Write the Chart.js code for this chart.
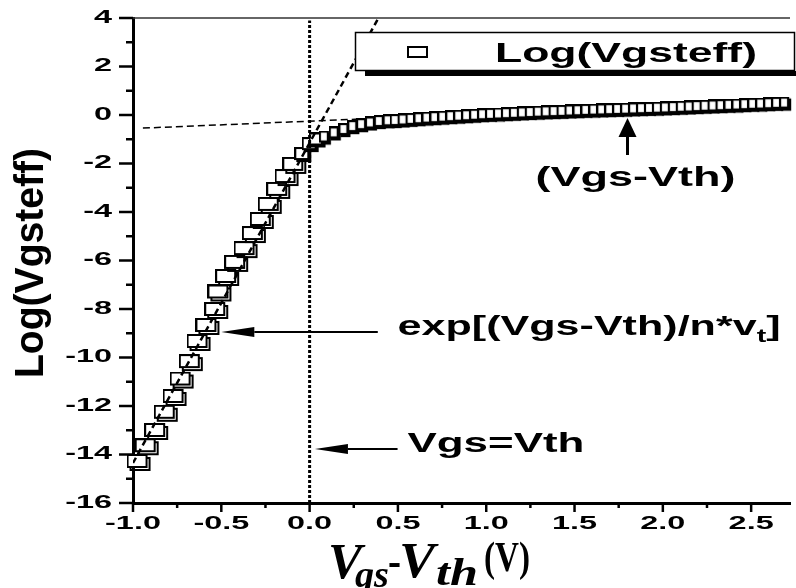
<!DOCTYPE html>
<html>
<head>
<meta charset="utf-8">
<script src="https://cdn.jsdelivr.net/npm/chart.js@4.4.0/dist/chart.umd.min.js"></script>
<style>
  html, body { margin: 0; padding: 0; background: #fff; }
  #wrap { width: 796px; height: 588px; position: relative; }
</style>
</head>
<body>
<div id="wrap"><canvas id="chart"></canvas></div>
<script>
// data
const vgsVth = [
  -0.966, -0.92, -0.866, -0.812, -0.762, -0.722, -0.67, -0.626, -0.576, -0.526,
  -0.508, -0.464, -0.413, -0.36, -0.313, -0.268, -0.223, -0.175, -0.128, -0.084,
  -0.036, 0.006, 0.045, 0.089, 0.145, 0.2, 0.25, 0.3, 0.35, 0.4, 0.45,
  0.49, 0.535, 0.58, 0.625, 0.67, 0.715, 0.76, 0.805, 0.85, 0.895,
  0.94, 0.985, 1.03, 1.075, 1.12, 1.165, 1.21, 1.255, 1.3, 1.345,
  1.39, 1.435, 1.48, 1.525, 1.57, 1.615, 1.66, 1.705, 1.75, 1.795,
  1.84, 1.885, 1.93, 1.975, 2.02, 2.065, 2.11, 2.155, 2.2, 2.245,
  2.29, 2.335, 2.38, 2.425, 2.47, 2.515, 2.56, 2.605, 2.65, 2.695
];
const logVgsteff = [
  -14.35, -13.7, -13.07, -12.32, -11.67, -10.95, -10.23, -9.4, -8.74, -8.08,
  -7.36, -6.72, -6.14, -5.57, -4.95, -4.37, -3.75, -3.13, -2.6, -2.1,
  -1.65, -1.24, -1.05, -0.95, -0.78, -0.64, -0.52, -0.44, -0.37, -0.31, -0.28,
  -0.27, -0.245, -0.22, -0.195, -0.17, -0.15, -0.13, -0.11, -0.09, -0.07,
  -0.05, -0.03, -0.015, 0.0, 0.015, 0.03, 0.045, 0.06, 0.075, 0.09,
  0.1, 0.11, 0.125, 0.135, 0.15, 0.16, 0.17, 0.18, 0.19, 0.2,
  0.21, 0.22, 0.23, 0.24, 0.25, 0.265, 0.28, 0.29, 0.305, 0.32,
  0.33, 0.345, 0.36, 0.37, 0.385, 0.4, 0.41, 0.425, 0.44, 0.45
];
// guide lines
const fitX = [-1.0, 0.39];
const fitY = [-14.35, 4.0];
const tanX = [-0.944, 1.0];
const tanY = [-0.54, 0.05];
const thX = [0, 0];
const thY = [-16, 3.9];

const xTicks = [-1.0, -0.5, 0.0, 0.5, 1.0, 1.5, 2.0, 2.5];
const xTickLabels = ['-1.0', '-0.5', '0.0', '0.5', '1.0', '1.5', '2.0', '2.5'];
const yTicks = [4, 2, 0, -2, -4, -6, -8, -10, -12, -14, -16];
const yTickLabels = ['4', '2', '0', '-2', '-4', '-6', '-8', '-10', '-12', '-14', '-16'];

const pts = (xs, ys) => xs.map((x, i) => ({ x: x, y: ys[i] }));

// open box markers
function box(w, h, sh, lw) {
  const c = document.createElement('canvas');
  c.width = w + sh + 3; c.height = h + sh + 3;
  const g = c.getContext('2d');
  g.lineWidth = lw || 2; g.strokeStyle = '#000';
  if (sh) g.strokeRect(1 + sh, 1 + sh, w, h);
  g.fillStyle = '#fff';
  g.fillRect(1, 1, w, h);
  g.strokeRect(1, 1, w, h);
  return c;
}
const wideBox = box(19, 12, 3);
const midBox = box(13, 11, 2);
const smallBox = box(8, 10, 2, 2.2);
const legendBox = box(19, 10, 0);

const SANS = '"Liberation Sans", Arial, sans-serif';
const SERIF = '"Liberation Serif", "Times New Roman", serif';

function fitText(ctx, str, x, y, w, align) {
  const m = ctx.measureText(str).width;
  ctx.save();
  ctx.translate(x, y);
  ctx.scale(w / m, 1);
  ctx.textAlign = align || 'left';
  ctx.fillText(str, 0, 0);
  ctx.restore();
}

function arrow(ctx, x1, y1, x2, y2, headLen, headHalf, lw) {
  const a = Math.atan2(y2 - y1, x2 - x1);
  const bx = x2 - Math.cos(a) * headLen, by = y2 - Math.sin(a) * headLen;
  ctx.lineWidth = lw;
  ctx.beginPath(); ctx.moveTo(x1, y1); ctx.lineTo(bx, by); ctx.stroke();
  ctx.beginPath();
  ctx.moveTo(x2, y2);
  ctx.lineTo(bx + Math.sin(a) * headHalf, by - Math.cos(a) * headHalf);
  ctx.lineTo(bx - Math.sin(a) * headHalf, by + Math.cos(a) * headHalf);
  ctx.closePath(); ctx.fill();
}

const decor = {
  id: 'decor',
  afterDraw(chart) {
    const ctx = chart.ctx, xs = chart.scales.x, ys = chart.scales.y, a = chart.chartArea;
    ctx.save();
    ctx.fillStyle = '#000'; ctx.strokeStyle = '#000';

    // top frame line
    ctx.lineWidth = 1.5; ctx.strokeStyle = '#333';
    ctx.beginPath(); ctx.moveTo(a.left, a.top); ctx.lineTo(a.right, a.top); ctx.stroke();
    ctx.strokeStyle = '#000';

    // ticks
    ctx.lineWidth = 2.5;
    xTicks.forEach((v) => {
      const p = xs.getPixelForValue(v);
      ctx.beginPath(); ctx.moveTo(p, a.bottom); ctx.lineTo(p, a.bottom + 9); ctx.stroke();
      const m = v + 0.25;
      if (m < xs.max) {
        const q = xs.getPixelForValue(m);
        ctx.beginPath(); ctx.moveTo(q, a.bottom); ctx.lineTo(q, a.bottom + 5); ctx.stroke();
      }
    });
    yTicks.forEach((v) => {
      const p = ys.getPixelForValue(v);
      ctx.beginPath(); ctx.moveTo(a.left - 14, p); ctx.lineTo(a.left, p); ctx.stroke();
      if (v > ys.min) {
        const q = ys.getPixelForValue(v - 1);
        ctx.beginPath(); ctx.moveTo(a.left - 7, q); ctx.lineTo(a.left, q); ctx.stroke();
      }
    });

    // tick labels
    ctx.font = 'bold 18px ' + SANS;
    ctx.textBaseline = 'middle';
    xTicks.forEach((v, i) => {
      const p = xs.getPixelForValue(v);
      ctx.save(); ctx.translate(p, a.bottom + 21); ctx.scale(1.8, 1);
      ctx.textAlign = 'center'; ctx.fillText(xTickLabels[i], 0, 0); ctx.restore();
    });
    yTicks.forEach((v, i) => {
      const p = ys.getPixelForValue(v);
      ctx.save(); ctx.translate(a.left - 21, p); ctx.scale(1.8, 1);
      ctx.textAlign = 'right'; ctx.fillText(yTickLabels[i], 0, 0); ctx.restore();
    });

    // y axis title
    ctx.save();
    ctx.translate(32, 263); ctx.rotate(-Math.PI / 2);
    ctx.font = 'bold 40px ' + SANS; ctx.textBaseline = 'middle';
    fitText(ctx, 'Log(Vgsteff)', 0, 0, 230, 'center');
    ctx.restore();

    // x axis title
    ctx.textBaseline = 'alphabetic';
    ctx.font = 'italic bold 50px ' + SERIF; fitText(ctx, 'V', 328, 578, 34);
    ctx.font = 'italic bold 38px ' + SERIF; fitText(ctx, 'gs', 355, 587, 34);
    ctx.font = 'bold 46px ' + SERIF; fitText(ctx, '-', 388, 576, 13);
    ctx.font = 'italic bold 50px ' + SERIF; fitText(ctx, 'V', 399, 577, 36);
    ctx.font = 'italic bold 38px ' + SERIF; fitText(ctx, 'th', 436, 585, 42);
    ctx.font = 'bold 42px ' + SERIF; fitText(ctx, '(V)', 484, 571, 46);

    // legend
    ctx.fillStyle = '#000'; ctx.fillRect(365, 70, 431, 6);
    ctx.fillStyle = '#fff'; ctx.fillRect(355, 32, 441, 39);
    ctx.lineWidth = 1.5; ctx.strokeRect(355.5, 32.5, 439, 38);
    ctx.drawImage(legendBox, 407, 46);
    ctx.fillStyle = '#000';
    ctx.font = 'bold 28px ' + SANS;
    fitText(ctx, 'Log(Vgsteff)', 495, 62, 262);

    // annotations
    arrow(ctx, xs.getPixelForValue(1.8), ys.getPixelForValue(-1.65),
          xs.getPixelForValue(1.8), ys.getPixelForValue(-0.12), 19, 9, 3);
    ctx.font = 'bold 27px ' + SANS;
    fitText(ctx, '(Vgs-Vth)', xs.getPixelForValue(1.845), ys.getPixelForValue(-2.93), 200, 'center');

    arrow(ctx, xs.getPixelForValue(0.386), ys.getPixelForValue(-8.95),
          xs.getPixelForValue(-0.5), ys.getPixelForValue(-8.95), 33, 5, 2);
    // exp[(Vgs-Vth)/n*vt]
    {
      const main = 'exp[(Vgs-Vth)/n*v';
      ctx.font = 'bold 27px ' + SANS; const w1 = ctx.measureText(main).width; const w3 = ctx.measureText(']').width;
      ctx.font = 'bold 18px ' + SANS; const w2 = ctx.measureText('t').width;
      const sx = 383 / (w1 + w2 + w3);
      const x0 = xs.getPixelForValue(0.498), y0 = ys.getPixelForValue(-9.07);
      ctx.save(); ctx.translate(x0, y0); ctx.scale(sx, 1); ctx.textAlign = 'left';
      ctx.font = 'bold 27px ' + SANS; ctx.fillText(main, 0, 0);
      ctx.font = 'bold 18px ' + SANS; ctx.fillText('t', w1, 7);
      ctx.font = 'bold 27px ' + SANS; ctx.fillText(']', w1 + w2, 0);
      ctx.restore();
    }

    arrow(ctx, xs.getPixelForValue(0.498), ys.getPixelForValue(-13.77),
          xs.getPixelForValue(0.03), ys.getPixelForValue(-13.77), 33, 5, 2);
    ctx.font = 'bold 27px ' + SANS;
    fitText(ctx, 'Vgs=Vth', xs.getPixelForValue(0.554), ys.getPixelForValue(-13.9), 177);

    ctx.restore();
  }
};

new Chart(document.getElementById('chart'), {
  type: 'scatter',
  data: {
    datasets: [
      { data: pts(thX, thY), showLine: true, borderColor: '#000', borderWidth: 3,
        borderDash: [3, 2], pointRadius: 0 },
      { data: pts(fitX, fitY), showLine: true, borderColor: '#000', borderWidth: 2.5,
        borderDash: [6, 4], pointRadius: 0 },
      { data: pts(vgsVth, logVgsteff), showLine: false, clip: false, pointRadius: 5,
        pointStyle: (c) => {
          const v = c.raw ? c.raw.x : 1;
          return v < -0.06 ? wideBox : (v < 0.07 ? midBox : smallBox);
        } },
      { data: pts(tanX, tanY), showLine: true, borderColor: '#000', borderWidth: 1.5,
        borderDash: [7, 4], pointRadius: 0 }
    ]
  },
  options: {
    responsive: true,
    maintainAspectRatio: false,
    animation: false,
    events: [],
    layout: { padding: { top: 18, left: 0, right: 0, bottom: 0 } },
    plugins: { legend: { display: false }, tooltip: { enabled: false } },
    scales: {
      x: {
        type: 'linear', min: -1.0, max: 2.72,
        ticks: { display: false, stepSize: 0.5 },
        grid: { display: false },
        border: { display: true, color: '#000', width: 3 },
        afterFit: (s) => { s.height = 85; }
      },
      y: {
        type: 'linear', min: -16, max: 4,
        ticks: { display: false, stepSize: 2 },
        grid: { display: false },
        border: { display: true, color: '#000', width: 3 },
        afterFit: (s) => { s.width = 133; }
      }
    }
  },
  plugins: [decor]
});
</script>
</body>
</html>
